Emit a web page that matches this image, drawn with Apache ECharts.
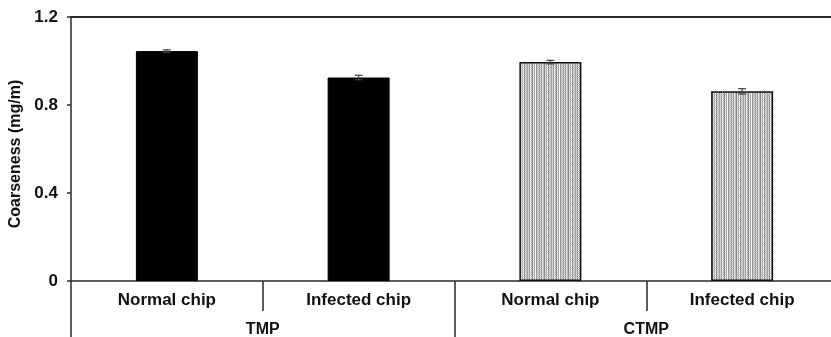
<!DOCTYPE html>
<html>
<head>
<meta charset="utf-8">
<script src="https://cdn.jsdelivr.net/npm/echarts@6/dist/echarts.min.js"></script>
<style>html,body{margin:0;padding:0;background:#fff;}#c{width:831px;height:337px;}</style>
</head>
<body>
<div id="c"></div>
<script>
var categories = ['Normal chip', 'Infected chip', 'Normal chip', 'Infected chip'];
var groups = ['TMP', 'CTMP'];
var tmpValues = [1.045, 0.925];
var tmpErrors = [0.006, 0.010];
var ctmpValues = [0.995, 0.862];
var ctmpErrors = [0.008, 0.012];
var yTicks = [0, 0.4, 0.8, 1.2];

// stipple texture for CTMP bars
function makePattern() {
  var cv = document.createElement('canvas');
  var w = 12, h = 4;
  cv.width = w; cv.height = h;
  var ctx = cv.getContext('2d');
  var cols = [205, 150, 225, 180, 130, 215, 170, 235, 145, 200, 190, 160];
  for (var x = 0; x < w; x++) {
    for (var y = 0; y < h; y++) {
      var g = cols[x] + ((x + y) % 2 === 0 ? 25 : -15);
      g = Math.max(0, Math.min(255, g));
      ctx.fillStyle = 'rgb(' + g + ',' + g + ',' + g + ')';
      ctx.fillRect(x, y, 1, 1);
    }
  }
  return cv;
}
var pattern = makePattern();

var tmpData = tmpValues.map(function (v, i) { return [i, v]; });
var ctmpData = ctmpValues.map(function (v, i) { return [i + 2, v]; });
var errData = tmpValues.map(function (v, i) { return [i, v - tmpErrors[i], v + tmpErrors[i]]; })
  .concat(ctmpValues.map(function (v, i) { return [i + 2, v - ctmpErrors[i], v + ctmpErrors[i]]; }));

var font = 'Liberation Sans, Arial, sans-serif';
var axisColor = '#2a2a2a';

var chart = echarts.init(document.getElementById('c'));
chart.setOption({
  animation: false,
  backgroundColor: '#fff',
  grid: { left: 71, width: 767, top: 17, bottom: 56, containLabel: false, outerBoundsMode: 'none' },
  xAxis: [
    {
      type: 'category', data: categories, position: 'bottom', boundaryGap: true,
      axisLine: { show: true, lineStyle: { color: axisColor, width: 1.5 } },
      axisTick: { show: true, length: 30, interval: 0, lineStyle: { color: axisColor, width: 1.5 } },
      axisLabel: { interval: 0, margin: 11, color: '#111', fontFamily: font, fontWeight: 'bold', fontSize: 17 },
      splitLine: { show: false }
    },
    {
      type: 'category', data: groups, position: 'bottom', boundaryGap: true,
      axisLine: { show: false },
      axisTick: { show: true, length: 56, interval: 0, lineStyle: { color: axisColor, width: 1.5 } },
      axisLabel: { interval: 0, margin: 41, color: '#111', fontFamily: font, fontWeight: 'bold', fontSize: 16 },
      splitLine: { show: false }
    },
    {
      type: 'category', data: categories, position: 'top',
      axisLine: { show: true, lineStyle: { color: axisColor, width: 2 } },
      axisTick: { show: false }, axisLabel: { show: false }, splitLine: { show: false }
    }
  ],
  yAxis: [
    {
      type: 'value', min: 0, max: 1.2, interval: 0.4,
      name: 'Coarseness (mg/m)', nameLocation: 'middle', nameGap: 46,
      nameTextStyle: { color: '#111', fontFamily: font, fontWeight: 'bold', fontSize: 16, padding: [0, 10, 0, 0] },
      axisLine: { show: true, lineStyle: { color: axisColor, width: 1.5 } },
      axisTick: { show: true, length: 4, lineStyle: { color: axisColor, width: 1.5 } },
      axisLabel: { margin: 13, color: '#111', fontFamily: font, fontWeight: 'bold', fontSize: 17,
        formatter: function (v) { return yTicks.indexOf(Math.round(v * 10) / 10) >= 0 ? String(Math.round(v * 10) / 10) : ''; } },
      splitLine: { show: false }
    }
  ],
  series: [
    {
      name: 'TMP', type: 'bar', xAxisIndex: 0, yAxisIndex: 0, barWidth: 62, barGap: '-100%',
      data: tmpData,
      itemStyle: { color: '#000', borderColor: '#000', borderWidth: 1 }
    },
    {
      name: 'CTMP', type: 'bar', xAxisIndex: 0, yAxisIndex: 0, barWidth: 62, barGap: '-100%',
      data: ctmpData,
      itemStyle: { color: { image: pattern, repeat: 'repeat' }, borderColor: '#111', borderWidth: 1.5 }
    },
    {
      name: 'err', type: 'custom', xAxisIndex: 0, yAxisIndex: 0, z: 10,
      data: errData,
      renderItem: function (params, api) {
        var lo = api.coord([api.value(0), api.value(1)]);
        var hi = api.coord([api.value(0), api.value(2)]);
        var hw = 4;
        var style = { stroke: '#444', lineWidth: 1.2 };
        return {
          type: 'group',
          children: [
            { type: 'line', shape: { x1: hi[0], y1: hi[1], x2: lo[0], y2: lo[1] }, style: style },
            { type: 'line', shape: { x1: hi[0] - hw, y1: hi[1], x2: hi[0] + hw, y2: hi[1] }, style: style },
            { type: 'line', shape: { x1: lo[0] - hw, y1: lo[1], x2: lo[0] + hw, y2: lo[1] }, style: style }
          ]
        };
      }
    }
  ]
});
</script>
</body>
</html>
